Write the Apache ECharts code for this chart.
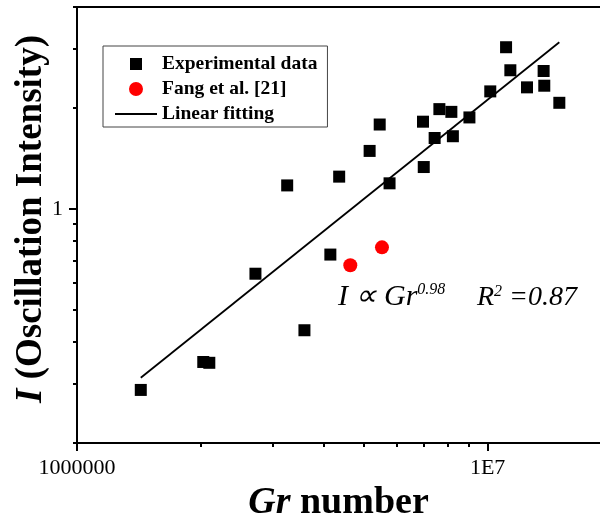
<!DOCTYPE html>
<html>
<head>
<meta charset="utf-8">
<script src="https://cdn.jsdelivr.net/npm/echarts@6/dist/echarts.min.js"></script>
<style>
  html, body { margin: 0; padding: 0; background: #fff; }
  #chart { width: 600px; height: 522px; }
</style>
</head>
<body>
<div id="chart"></div>
<script>
const FONT = '"Liberation Serif", "Times New Roman", serif';

// experimental points (Gr, I)
const expGr = [1.43e6, 2.03e6, 2.10e6, 2.72e6, 3.25e6, 3.58e6, 4.14e6, 4.35e6, 5.16e6, 5.46e6,
               5.77e6, 6.96e6, 6.99e6, 7.43e6, 7.63e6, 8.16e6, 8.23e6, 9.03e6, 1.015e7, 1.109e7,
               1.136e7, 1.247e7, 1.369e7, 1.374e7, 1.495e7];
const expI = [0.288, 0.349, 0.347, 0.640, 1.174, 0.434, 0.730, 1.247, 1.488, 1.784,
              1.191, 1.819, 1.332, 1.626, 1.983, 1.946, 1.646, 1.873, 2.240, 3.034,
              2.590, 2.303, 2.577, 2.329, 2.071];

// Fang et al. [21]
const fangGr = [4.63e6, 5.53e6];
const fangI = [0.678, 0.767];

// linear fitting (log-log) end points
const fitGr = [1.43e6, 1.495e7];
const fitI = [0.313, 3.14];

const xRange = [1e6, 1.878e7];
const yRange = [0.2, 4];
const xMajor = [1e6, 1e7];
const xMinor = [2e6, 3e6, 4e6, 5e6, 6e6, 7e6, 8e6, 9e6];
const yMajor = [1];
const yMinor = [0.2, 0.3, 0.4, 0.5, 0.6, 0.7, 0.8, 0.9, 2, 3, 4];

const zip = (a, b) => a.map((v, i) => [v, b[i]]);

// legend icons drawn in a 42x14 box (tiny corner dots keep the box size)
const box = 'M0,0h0.01v0.01h-0.01Z M41.99,13.99h0.01v0.01h-0.01Z ';
const iconSquare = 'path://' + box + 'M15,1h12v12h-12Z';
const iconCircle = 'path://' + box + 'M14,7a7,7 0 1,0 14,0a7,7 0 1,0 -14,0Z';
const iconLine = 'path://' + box + 'M0,6.1H42V7.9H0Z';

let chart = echarts.init(document.getElementById('chart'), null, { renderer: 'canvas' });

const lineBlack = { show: true, lineStyle: { color: '#000', width: 2 } };

chart.setOption({
  animation: false,
  backgroundColor: '#fff',
  grid: { left: 77, right: 0, top: 7, bottom: 79, containLabel: false, outerBoundsMode: 'none' },
  legend: {
    orient: 'vertical',
    left: 103,
    top: 46,
    padding: [8, 10, 3, 12],
    itemGap: 5,
    itemWidth: 42,
    itemHeight: 14,
    borderColor: '#444',
    borderWidth: 1,
    backgroundColor: '#fff',
    selectedMode: false,
    itemStyle: { borderWidth: 0 },
    textStyle: { fontFamily: FONT, fontWeight: 'bold', fontSize: 19.5, color: '#000', lineHeight: 20 },
    data: [
      { name: 'Experimental data', icon: iconSquare },
      { name: 'Fang et al. [21]', icon: iconCircle },
      { name: 'Linear fitting', icon: iconLine }
    ]
  },
  xAxis: [
    {
      type: 'log', min: xRange[0], max: xRange[1],
      axisLine: lineBlack,
      axisTick: { show: true, inside: false, length: 8, lineStyle: { color: '#000', width: 2 }, customValues: xMajor },
      axisLabel: {
        customValues: xMajor, margin: 14,
        fontFamily: FONT, fontSize: 22, color: '#000',
        formatter: v => (v >= 9e6 ? '1E7' : '1000000')
      },
      splitLine: { show: false },
      name: '{i|Gr} number',
      nameLocation: 'middle',
      nameGap: 36,
      nameTextStyle: {
        fontFamily: FONT, fontWeight: 'bold', fontSize: 38, color: '#000',
        rich: { i: { fontFamily: FONT, fontWeight: 'bold', fontStyle: 'italic', fontSize: 38, color: '#000' } }
      }
    },
    {
      type: 'log', min: xRange[0], max: xRange[1], position: 'bottom',
      axisLine: { show: false },
      axisTick: { show: true, length: 4, lineStyle: { color: '#000', width: 2 }, customValues: xMinor },
      axisLabel: { show: false },
      splitLine: { show: false }
    },
    {
      type: 'log', min: xRange[0], max: xRange[1], position: 'top',
      axisLine: lineBlack,
      axisTick: { show: false },
      axisLabel: { show: false },
      splitLine: { show: false }
    }
  ],
  yAxis: [
    {
      type: 'log', min: yRange[0], max: yRange[1], position: 'left',
      axisLine: lineBlack,
      axisTick: { show: true, length: 8, lineStyle: { color: '#000', width: 2 }, customValues: yMajor },
      axisLabel: { customValues: yMajor, margin: 14, fontFamily: FONT, fontSize: 22, color: '#000', formatter: () => '1' },
      splitLine: { show: false },
      name: '{i|I} (Oscillation Intensity)',
      nameLocation: 'middle',
      nameGap: 27,
      nameMoveOverlap: false,
      nameTextStyle: {
        fontFamily: FONT, fontWeight: 'bold', fontSize: 37, color: '#000',
        padding: [0, 0, 0, 12],
        rich: { i: { fontFamily: FONT, fontWeight: 'bold', fontStyle: 'italic', fontSize: 37, color: '#000' } }
      }
    },
    {
      type: 'log', min: yRange[0], max: yRange[1], position: 'left',
      axisLine: { show: false },
      axisTick: { show: true, length: 4, lineStyle: { color: '#000', width: 2 }, customValues: yMinor },
      axisLabel: { show: false },
      splitLine: { show: false }
    }
  ],
  graphic: [
    {
      type: 'text', left: 338, top: 282,
      style: {
        text: '{a|I ∝ Gr}{b|0.98}',
        rich: {
          a: { fontFamily: FONT, fontStyle: 'italic', fontSize: 30, fill: '#000' },
          b: { fontFamily: FONT, fontStyle: 'italic', fontSize: 16, fill: '#000', verticalAlign: 'top' }
        }
      }
    },
    {
      type: 'text', left: 477, top: 284,
      style: {
        text: '{a|R}{b|2}{a| =0.87}',
        rich: {
          a: { fontFamily: FONT, fontStyle: 'italic', fontSize: 28, fill: '#000' },
          b: { fontFamily: FONT, fontStyle: 'italic', fontSize: 16, fill: '#000', verticalAlign: 'top' }
        }
      }
    }
  ],
  series: [
    {
      name: 'Experimental data', type: 'scatter',
      xAxisIndex: 0, yAxisIndex: 0,
      symbol: 'rect', symbolSize: 12,
      itemStyle: { color: '#000', opacity: 1 },
      data: zip(expGr, expI)
    },
    {
      name: 'Fang et al. [21]', type: 'scatter',
      xAxisIndex: 0, yAxisIndex: 0,
      symbol: 'circle', symbolSize: 14,
      itemStyle: { color: '#ff0000', opacity: 1 },
      data: zip(fangGr, fangI)
    },
    {
      name: 'Linear fitting', type: 'line',
      xAxisIndex: 0, yAxisIndex: 0,
      symbol: 'none', showSymbol: false,
      lineStyle: { color: '#000', width: 1.8 },
      itemStyle: { color: '#000' },
      data: zip(fitGr, fitI)
    }
  ]
});
</script>
</body>
</html>
